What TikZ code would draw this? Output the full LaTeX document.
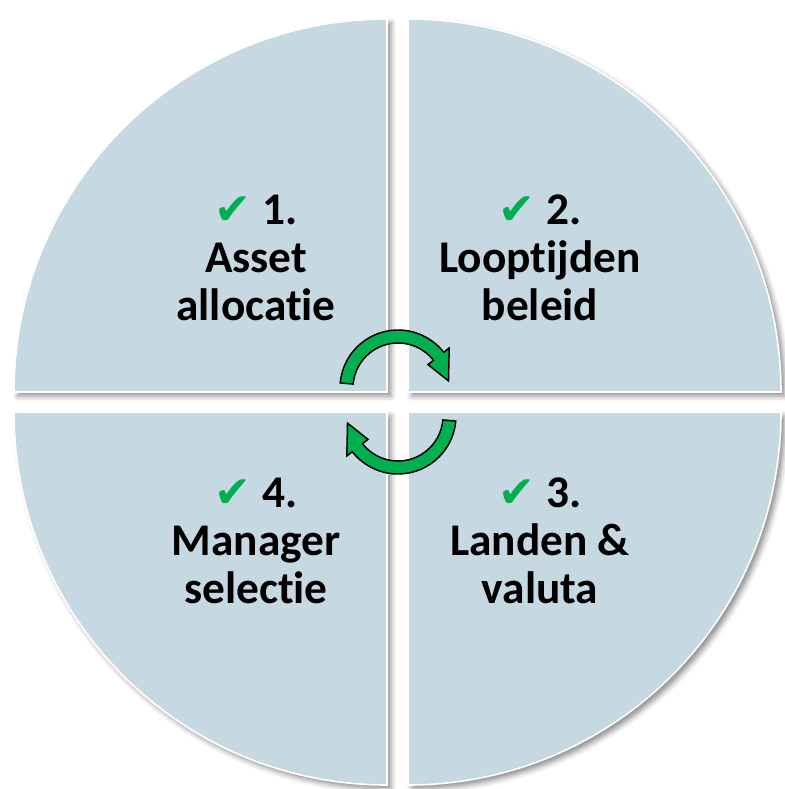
\documentclass[tikz,border=0pt]{standalone}
\usepackage{fontspec}
\setmainfont{Carlito}[Ligatures=NoCommon]
\newfontfamily\symfont{DejaVu Sans}
\usetikzlibrary{shadows.blur}
\definecolor{quadfill}{RGB}{198,216,225}
\definecolor{okgreen}{RGB}{0,176,80}
\newcommand{\vinkje}{{\color{okgreen}\symfont\fontsize{33}{33}\selectfont ✔}}

\begin{document}
\begin{tikzpicture}[x=0.75pt,y=0.75pt,yscale=-1,xscale=1,
  quad/.style={fill=quadfill, draw=white, line width=1.2pt,
    blur shadow={shadow xshift=3pt, shadow yshift=-3pt, shadow blur radius=4pt, shadow opacity=45}},
  quadtext/.style={align=center, font=\fontsize{34}{36}\selectfont\bfseries, inner sep=0pt},
  turn/.style={fill=okgreen, draw=black, line width=1.1pt, line join=miter}]
\useasboundingbox (0,0) rectangle (785,789);

%Shape: Quarter 1 (top left)
\draw [quad] (387,392) -- (14,392) arc (180:270:373) -- cycle ;
%Shape: Quarter 2 (top right)
\draw [quad] (408,392) -- (408,19) arc (270:360:373) -- cycle ;
%Shape: Quarter 3 (bottom right)
\draw [quad] (408,412) -- (781,412) arc (0:90:373) -- cycle ;
%Shape: Quarter 4 (bottom left)
\draw [quad] (387,412) -- (387,785) arc (90:180:373) -- cycle ;

% Text Node
\node [quadtext] (asset) at (256,258) {\vinkje~1.\\Asset\\allocatie};
% Text Node
\node [quadtext] (looptijden) at (540,258) {\vinkje~2.\\Looptijden\\beleid};
% Text Node
\node [quadtext] (landen) at (540,541) {\vinkje~3.\\Landen \&\\valuta};
% Text Node
\node [quadtext] (manager) at (256,541) {\vinkje~4.\\Manager\\selectie};

%Curved Arrow (top)
\begin{scope}[shift={(398,388)}]
\draw [turn] (185:58) arc (185:322:58) -- (322:65) -- (352:51) -- (322:38) -- (322:45) arc (322:185:45) -- cycle ;
\end{scope}
%Curved Arrow (bottom)
\begin{scope}[shift={(398,416)},rotate=180]
\draw [turn] (185:58) arc (185:322:58) -- (322:65) -- (352:51) -- (322:38) -- (322:45) arc (322:185:45) -- cycle ;
\end{scope}

\end{tikzpicture}
\end{document}
